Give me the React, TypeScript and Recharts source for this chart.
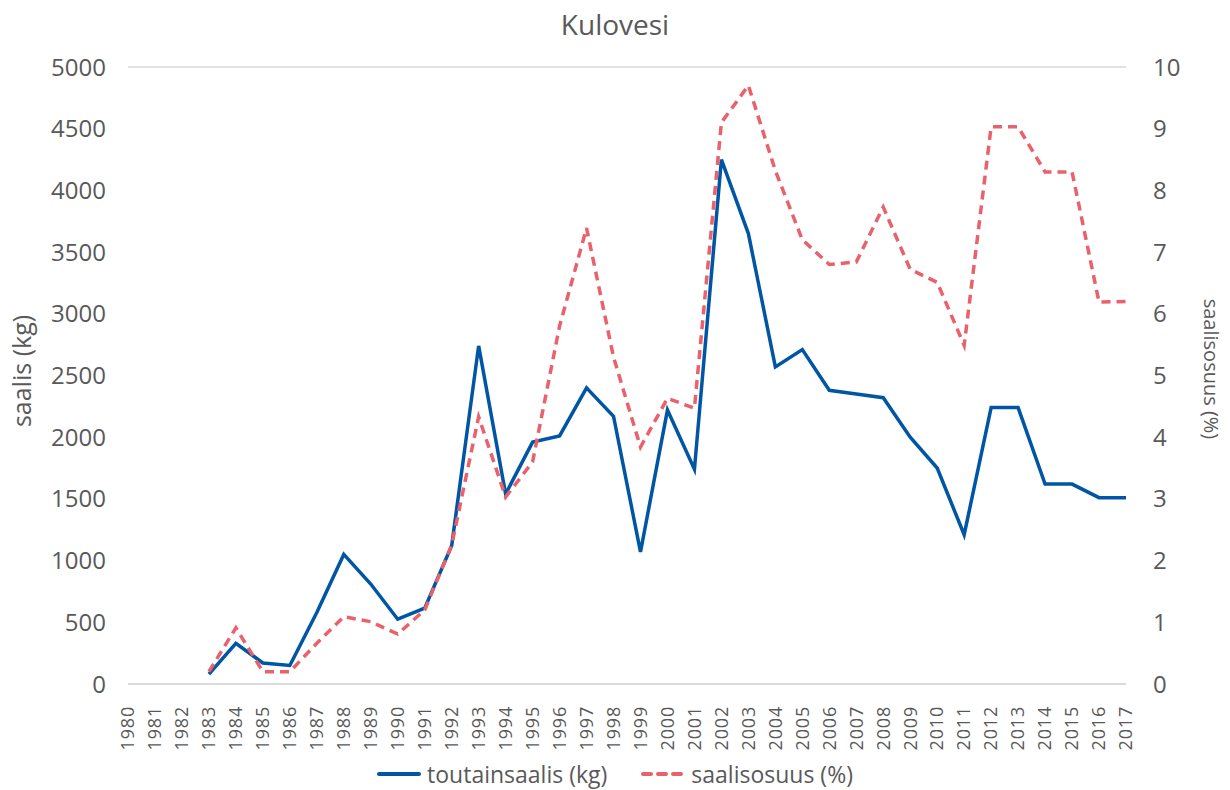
import { LineChart, Line, XAxis, YAxis, CartesianGrid, Legend } from "recharts";

const YEARS = [
  "1980", "1981", "1982", "1983", "1984", "1985", "1986", "1987", "1988", "1989",
  "1990", "1991", "1992", "1993", "1994", "1995", "1996", "1997", "1998", "1999",
  "2000", "2001", "2002", "2003", "2004", "2005", "2006", "2007", "2008", "2009",
  "2010", "2011", "2012", "2013", "2014", "2015", "2016", "2017",
];

// toutainsaalis (kg), left axis
const CATCH_KG = [
  null, null, null, 80, 330, 170, 150, 580, 1050, 810,
  525, 615, 1120, 2740, 1540, 1960, 2010, 2400, 2170, 1070,
  2220, 1740, 4250, 3650, 2570, 2710, 2380, 2350, 2320, 2000,
  1750, 1210, 2240, 2240, 1620, 1620, 1510, 1510,
];

// saalisosuus (%), right axis
const SHARE_PCT = [
  null, null, null, 0.2, 0.91, 0.2, 0.2, 0.66, 1.09, 1.01,
  0.81, 1.2, 2.25, 4.33, 3.03, 3.6, 5.8, 7.39, 5.3, 3.84,
  4.63, 4.47, 9.1, 9.7, 8.32, 7.2, 6.8, 6.84, 7.73, 6.72,
  6.51, 5.49, 9.03, 9.03, 8.3, 8.3, 6.19, 6.2,
];

const LEFT_TICKS = [0, 500, 1000, 1500, 2000, 2500, 3000, 3500, 4000, 4500, 5000];
const RIGHT_TICKS = [0, 1, 2, 3, 4, 5, 6, 7, 8, 9, 10];

const data = YEARS.map((year, i) => ({
  year,
  catchKg: CATCH_KG[i],
  share: SHARE_PCT[i],
}));

const FONT = "'Open Sans', sans-serif";
const GRAY = "#595959";

const YearTick = ({ x, y, payload }: any) => (
  <text
    x={x}
    y={y + 14}
    transform={`rotate(-90, ${x}, ${y + 14})`}
    textAnchor="end"
    dy="0.35em"
    fill={GRAY}
    fontSize={18}
    letterSpacing={0.8}
    fontFamily={FONT}
  >
    {payload.value}
  </text>
);

const LegendContent = ({ payload }: any) => (
  <div style={{ display: "flex", justifyContent: "center", gap: 34, fontFamily: FONT, fontSize: 23, color: GRAY }}>
    {(payload || []).map((item: any) => (
      <div key={item.value} style={{ display: "flex", alignItems: "center", gap: 6 }}>
        <svg width={44} height={10}>
          <line
            x1={2}
            y1={5}
            x2={42}
            y2={5}
            stroke={item.color}
            strokeWidth={4}
            strokeLinecap="round"
            strokeDasharray={item.payload?.strokeDasharray ? "8 7" : undefined}
          />
        </svg>
        <span>{item.value}</span>
      </div>
    ))}
  </div>
);

const axisTitle = (x: number, y: number, deg: number, size: number): any => ({
  position: "absolute",
  left: x,
  top: y,
  transform: `translate(-50%, -50%) rotate(${deg}deg)`,
  whiteSpace: "nowrap",
  fontFamily: FONT,
  fontSize: size,
  color: GRAY,
});

export default function App() {
  return (
    <div style={{ position: "absolute", left: 0, top: 0, width: 1230, height: 790, background: "#fff" }}>
      <div
        style={{
          position: "absolute",
          top: 5,
          width: 1230,
          textAlign: "center",
          fontFamily: FONT,
          fontSize: 28,
          color: GRAY,
        }}
      >
        Kulovesi
      </div>
      <LineChart width={1230} height={790} data={data} margin={{ top: 67, right: 10, bottom: 0, left: 10 }}>
        <CartesianGrid vertical={false} stroke="#d9d9d9" strokeWidth={1.5} />
        <XAxis
          dataKey="year"
          interval={0}
          height={66}
          tick={<YearTick />}
          tickLine={false}
          axisLine={{ stroke: "#d9d9d9", strokeWidth: 1.5 }}
        />
        <YAxis
          yAxisId="left"
          domain={[0, 5000]}
          ticks={LEFT_TICKS}
          width={118}
          tickLine={false}
          axisLine={false}
          tickMargin={16}
          tick={{ fill: GRAY, fontSize: 24, fontFamily: FONT }}
        />
        <YAxis
          yAxisId="right"
          orientation="right"
          domain={[0, 10]}
          ticks={RIGHT_TICKS}
          width={94}
          tickLine={false}
          axisLine={false}
          tickMargin={21}
          tick={{ fill: GRAY, fontSize: 24, fontFamily: FONT }}
        />
        <Legend
          verticalAlign="bottom"
          align="center"
          height={40}
          itemSorter="dataKey"
          wrapperStyle={{ bottom: -8 }}
          content={<LegendContent />}
        />
        <Line
          yAxisId="left"
          name="toutainsaalis (kg)"
          dataKey="catchKg"
          stroke="#0056a4"
          strokeWidth={3.5}
          dot={false}
          isAnimationActive={false}
        />
        <Line
          yAxisId="right"
          name="saalisosuus (%)"
          dataKey="share"
          stroke="#e9616b"
          strokeWidth={3.5}
          strokeDasharray="9 6"
          dot={false}
          isAnimationActive={false}
        />
      </LineChart>
      <div style={axisTitle(21, 371, -90, 25)}>saalis (kg)</div>
      <div style={axisTitle(1211, 369, 90, 20)}>saalisosuus (%)</div>
    </div>
  );
}
